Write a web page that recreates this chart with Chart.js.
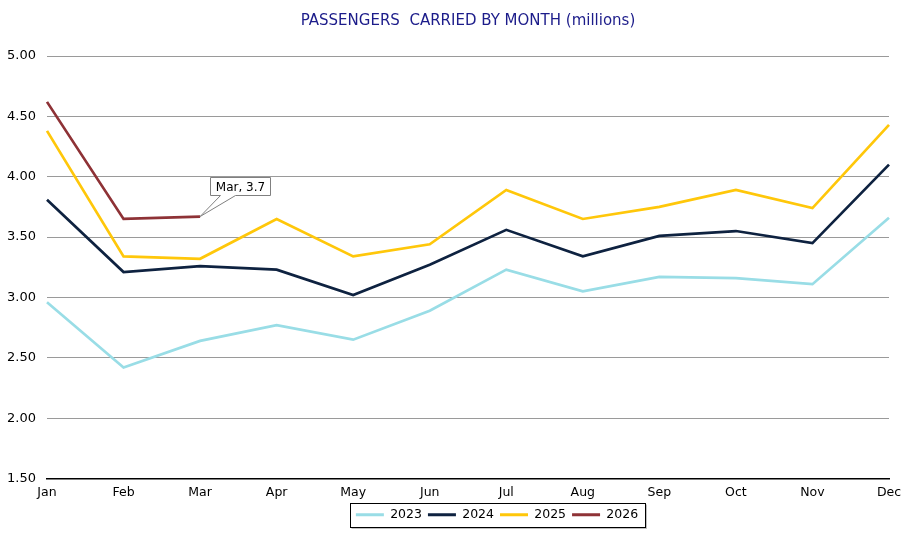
<!DOCTYPE html>
<html><head><meta charset="utf-8">
<script src="https://cdn.jsdelivr.net/npm/chart.js@4.4.1/dist/chart.umd.min.js"></script>
<style>html,body{margin:0;padding:0;background:#fff}#wrap{width:913px;height:537px}</style>
</head><body><div id="wrap"><canvas id="c" width="913" height="537"></canvas></div>
<script>
const months = ['Jan','Feb','Mar','Apr','May','Jun','Jul','Aug','Sep','Oct','Nov','Dec'];
const y2023 = [2.96,2.42,2.64,2.77,2.65,2.89,3.23,3.05,3.17,3.16,3.11,3.66];
const y2024 = [3.81,3.21,3.26,3.23,3.02,3.27,3.56,3.34,3.51,3.55,3.45,4.10];
const y2025 = [4.38,3.34,3.32,3.65,3.34,3.44,3.89,3.65,3.75,3.89,3.74,4.43];
const y2026 = [4.62,3.65,3.67];
const seriesNames = ['2023','2024','2025','2026'];
const colors = ['#99DDE6','#0E2240','#FFC70A','#8E3236'];
const calloutText = 'Mar, 3.7';
const LEGEND_SHIFT = 50;

const legendBox = {
  id:'legendBox',
  afterLayout(chart){
    const l = chart.legend; l.left += LEGEND_SHIFT; l.right += LEGEND_SHIFT;
  },
  afterDraw(chart){
    const l = chart.legend; const ctx = chart.ctx;
    ctx.save(); ctx.strokeStyle='#000'; ctx.lineWidth=1;
    const w = 295, h = 24;
    const x = Math.round(l.left + (l.width - w)/2)+0.5, y = Math.round(l.top)+0.5;
    ctx.strokeRect(x, y, w, h);
    ctx.strokeStyle='rgba(0,0,0,0.25)';
    ctx.beginPath(); ctx.moveTo(x+1,y+h+1); ctx.lineTo(x+w+1,y+h+1); ctx.lineTo(x+w+1,y+1); ctx.stroke();
    ctx.restore();
  }
};
const callout = {
  id:'callout',
  afterDatasetsDraw(chart){
    const meta = chart.getDatasetMeta(3); const pt = meta.data[2];
    const ctx = chart.ctx; ctx.save();
    const px = pt.x, py = pt.y;
    const bx = Math.round(px)+10.5, by = Math.round(py)-39.5, bw = 60, bh = 18;
    ctx.fillStyle='#fff'; ctx.strokeStyle='#808080'; ctx.lineWidth=1;
    ctx.beginPath();
    ctx.moveTo(bx,by); ctx.lineTo(bx+bw,by); ctx.lineTo(bx+bw,by+bh);
    ctx.lineTo(bx+25,by+bh); ctx.lineTo(px,py); ctx.lineTo(bx+10,by+bh); ctx.lineTo(bx,by+bh); ctx.closePath();
    ctx.fill(); ctx.stroke();
    ctx.fillStyle='#000'; ctx.font='12px "DejaVu Sans"'; ctx.textAlign='center'; ctx.textBaseline='middle';
    ctx.fillText(calloutText, bx+bw/2, by+bh/2+1);
    ctx.restore();
  }
};
const sets = [y2023,y2024,y2025,y2026].map((d,i)=>({
  label: seriesNames[i], data: d, borderColor: colors[i], backgroundColor: colors[i],
  borderWidth: 2.7, pointRadius: 0, tension: 0, fill:false
}));
new Chart(document.getElementById('c'), {
  type:'line',
  data:{labels: months, datasets: sets},
  plugins:[legendBox, callout],
  options:{
    responsive:false, animation:false,
    layout:{padding:{left:5,right:24,top:0,bottom:6}},
    plugins:{
      title:{display:true,fullSize:false,text:'PASSENGERS  CARRIED BY MONTH (millions)',color:'#1C1C8A',
        font:{family:'DejaVu Sans',size:15,weight:'normal'},padding:{top:12,bottom:26}},
      legend:{position:'bottom',labels:{usePointStyle:false,boxWidth:28,boxHeight:0,color:'#000',
        font:{family:'DejaVu Sans',size:12.5},padding:6,
        generateLabels(chart){return chart.data.datasets.map((ds,i)=>({text:ds.label,fillStyle:ds.borderColor,strokeStyle:ds.borderColor,lineWidth:3,datasetIndex:i}));}}},
      tooltip:{enabled:false}
    },
    scales:{
      x:{offset:false,grid:{display:false,drawOnChartArea:false,drawTicks:true,tickLength:5,tickColor:'#000'},
        border:{display:true,color:'#000',width:1.5},
        ticks:{color:'#000',font:{family:'DejaVu Sans',size:12.5},padding:2,maxRotation:0,autoSkip:false}},
      y:{min:1.5,max:5,grid:{color:'#9a9a9a',drawTicks:false,lineWidth:1},border:{display:false},
        afterFit(scale){ scale.width = 42; },
        ticks:{stepSize:0.5,color:'#000',font:{family:'DejaVu Sans',size:13},padding:11,
          callback:v=>v.toFixed(2)}}
    }
  }
});
</script></body></html>
